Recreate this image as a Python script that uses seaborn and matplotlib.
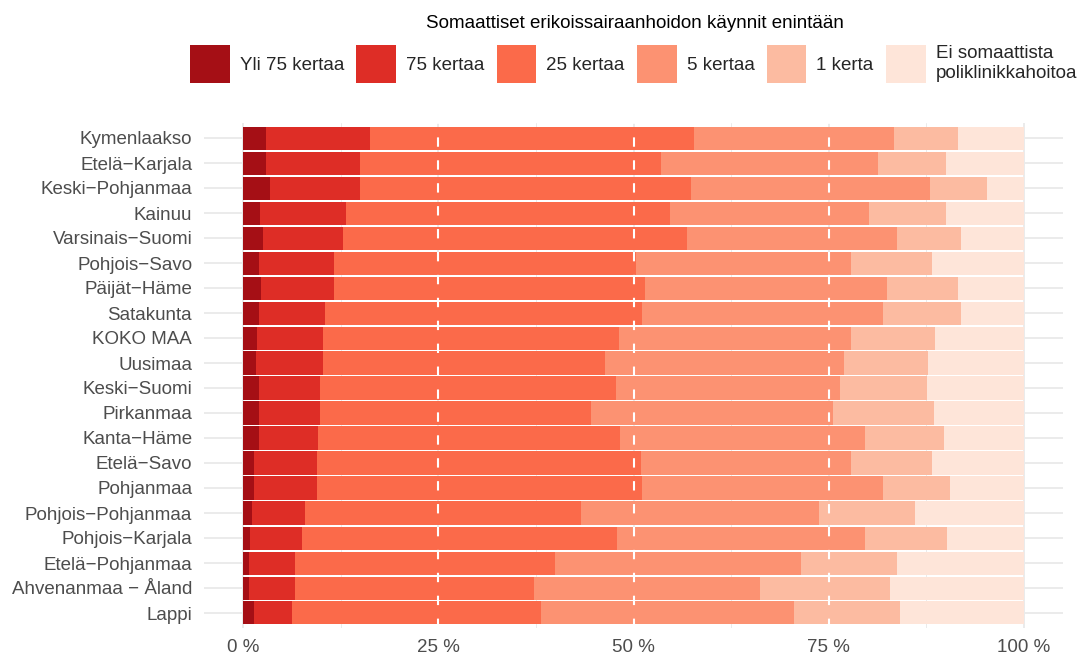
import numpy as np
import pandas as pd
import matplotlib
matplotlib.use("Agg")
import matplotlib.pyplot as plt
import seaborn as sns
from matplotlib.patches import Patch

regions = ["Kymenlaakso", "Etelä−Karjala", "Keski−Pohjanmaa", "Kainuu", "Varsinais−Suomi",
           "Pohjois−Savo", "Päijät−Häme", "Satakunta", "KOKO MAA", "Uusimaa",
           "Keski−Suomi", "Pirkanmaa", "Kanta−Häme", "Etelä−Savo", "Pohjanmaa",
           "Pohjois−Pohjanmaa", "Pohjois−Karjala", "Etelä−Pohjanmaa", "Ahvenanmaa − Åland", "Lappi"]

yli75 = [3.0, 2.9, 3.5, 2.2, 2.6, 2.1, 2.3, 2.0, 1.8, 1.6, 2.1, 2.0, 2.1, 1.4, 1.4, 1.1, 0.9, 0.7, 0.8, 1.4]
k75 = [13.3, 12.1, 11.5, 11.0, 10.2, 9.6, 9.4, 8.5, 8.5, 8.7, 7.7, 7.8, 7.5, 8.1, 8.1, 6.8, 6.6, 6.0, 5.8, 4.9]
k25 = [41.4, 38.5, 42.4, 41.5, 44.0, 38.6, 39.8, 40.6, 37.8, 36.0, 37.9, 34.7, 38.7, 41.4, 41.6, 35.4, 40.4, 33.2, 30.6, 31.8]
k5 = [25.7, 27.8, 30.6, 25.4, 26.9, 27.6, 30.9, 30.9, 29.8, 30.6, 28.8, 31.0, 31.3, 27.0, 30.9, 30.5, 31.7, 31.5, 29.0, 32.4]
k1 = [8.2, 8.7, 7.3, 9.9, 8.2, 10.3, 9.1, 9.9, 10.7, 10.8, 11.1, 13.0, 10.1, 10.3, 8.5, 12.2, 10.6, 12.3, 16.6, 13.6]
ei = [8.4, 10.0, 4.7, 10.0, 8.1, 11.8, 8.5, 8.1, 11.4, 12.3, 12.4, 11.5, 10.3, 11.8, 9.5, 14.0, 9.8, 16.3, 17.2, 15.9]

series_labels = ["Yli 75 kertaa", "75 kertaa", "25 kertaa", "5 kertaa", "1 kerta",
                 "Ei somaattista\npoliklinikkahoitoa"]
colors = ["#a50f15", "#de2d26", "#fb6a4a", "#fc9272", "#fcbba1", "#fee5d9"]
legend_title = "Somaattiset erikoissairaanhoidon käynnit enintään"
x_ticks = [0, 25, 50, 75, 100]
x_ticklabels = ["0 %", "25 %", "50 %", "75 %", "100 %"]

sns.set_theme(style="white")
plt.rcParams["font.family"] = ["Liberation Sans", "DejaVu Sans"]

segs = np.array([yli75, k75, k25, k5, k1, ei])
cum = np.cumsum(segs, axis=0)

fig = plt.figure(figsize=(10.78, 6.55), dpi=100)
ax = fig.add_axes([204 / 1078, 27 / 655, 859 / 1078, 505 / 655])

for i in reversed(range(len(series_labels))):
    df = pd.DataFrame({"region": regions, "value": cum[i]})
    sns.barplot(data=df, x="value", y="region", orient="h", color=colors[i],
                saturation=1, width=0.92, linewidth=0, ax=ax, zorder=2)

ax.set_xlim(-5, 105)
ax.set_ylim(len(regions) - 1 + 0.6, -0.6)
ax.set_xticks(x_ticks)
ax.set_xticklabels(x_ticklabels)
ax.set_xticks([12.5, 37.5, 62.5, 87.5], minor=True)
ax.set_xlabel("")
ax.set_ylabel("")
ax.set_axisbelow(True)
ax.grid(which="major", axis="both", color="#ebebeb", lw=1.4, zorder=0)
ax.grid(which="minor", axis="x", color="#ebebeb", lw=0.7, zorder=0)
for s in ax.spines.values():
    s.set_visible(False)
ax.tick_params(axis="both", which="both", length=0, labelsize=13.5, labelcolor="#4d4d4d")
ax.tick_params(axis="y", pad=8.5)
ax.tick_params(axis="x", pad=8)

for v in [25, 50, 75]:
    ax.axvline(v, color="white", lw=1.5, ls=(0, (4.5, 6.5)), zorder=5)

handles = [Patch(facecolor=c, edgecolor="none") for c in colors]
fig.legend(handles, series_labels, ncol=6, loc="upper left",
           bbox_to_anchor=(190 / 1078, 1 - 45 / 655), frameon=False, fontsize=13.5,
           handlelength=2.13, handleheight=2.74, handletextpad=0.53, columnspacing=0.64,
           borderpad=0, borderaxespad=0, labelspacing=0)
fig.text(635 / 1078, 1 - 23 / 655, legend_title, ha="center", va="center", fontsize=13.5, color="black")

fig.savefig("out.png", dpi=100)
